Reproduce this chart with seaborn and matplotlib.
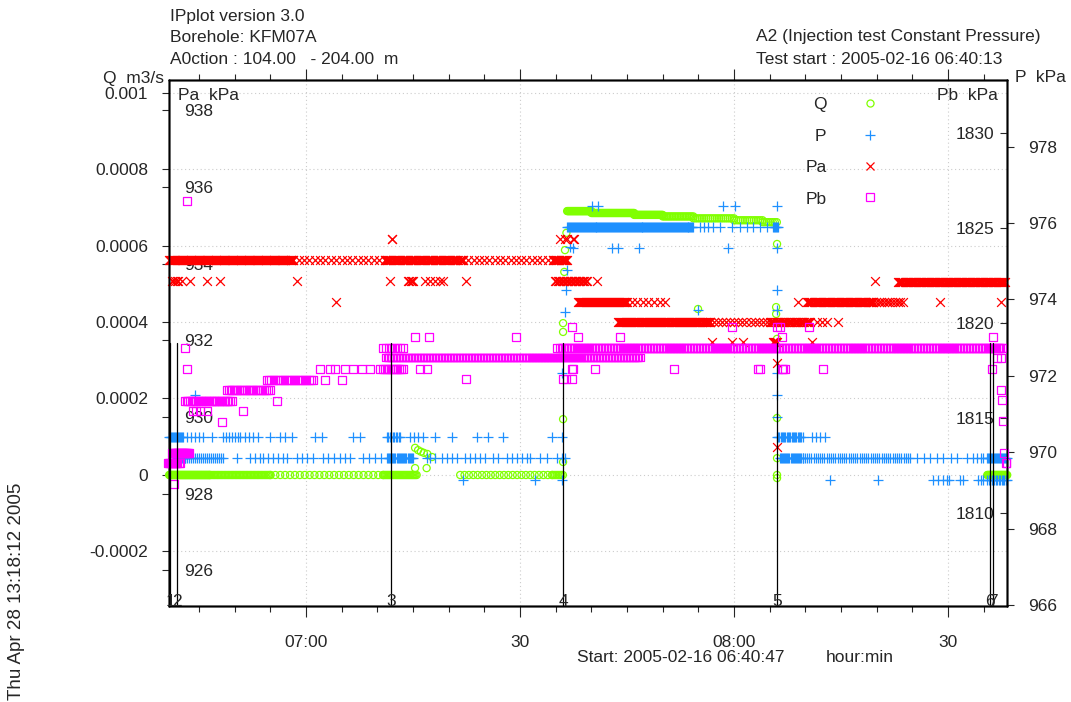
import numpy as np
import pandas as pd
import matplotlib
matplotlib.use("Agg")
import matplotlib.pyplot as plt
import matplotlib.transforms as mtransforms
from matplotlib.lines import Line2D
from matplotlib.ticker import MultipleLocator
import seaborn as sns

# ---------------------------------------------------------------------------
# Time axis: minutes after 06:00 on 2005-02-16
# ---------------------------------------------------------------------------
T_START = 40.78          # 06:40:47
T_END = 158.27
TIME_TICKS = [60, 90, 120, 150]
TIME_TICK_LABELS = ["07:00", "30", "08:00", "30"]

EVENT_TIMES = [40.93, 41.85, 71.95, 96.03, 126.03, 155.89, 156.31]
EVENT_LABELS = ["1", "2", "3", "4", "5", "6", "7"]

# Axis ranges and ticks
Q_LIM = (-0.0003425, 0.0010327)
Q_TICKS = [-0.0002, 0.0, 0.0002, 0.0004, 0.0006, 0.0008, 0.001]
Q_TICK_LABELS = ["-0.0002", "0", "0.0002", "0.0004", "0.0006", "0.0008", "0.001"]
PA_LIM = (925.07, 938.79)
PA_TICKS = [926, 928, 930, 932, 934, 936, 938]
PB_LIM = (1805.11, 1832.79)
PB_TICKS = [1810, 1815, 1820, 1825, 1830]
P_LIM = (965.97, 979.75)
P_TICKS = [966, 968, 970, 972, 974, 976, 978]

# ---------------------------------------------------------------------------
# Logged readings.  Runs: (first minute, last minute, readings, value)
# Single readings: (value, [minutes])
# ---------------------------------------------------------------------------
Q_RUNS = [
    (40.8, 46.5, 70, 0.0),
    (46.5, 55.0, 45, 0.0),
    (55.0, 70.8, 24, 0.0),
    (70.8, 75.5, 30, 0.0),
    (81.6, 94.5, 22, 0.0),
    (94.5, 96.0, 8, 0.0),
    (96.6, 100.0, 35, 0.00069),
    (100.0, 106.0, 45, 0.000685),
    (106.0, 110.0, 30, 0.00068),
    (110.0, 114.3, 20, 0.000676),
    (114.3, 120.0, 20, 0.000671),
    (120.0, 124.0, 14, 0.000666),
    (124.0, 126.0, 8, 0.000661),
    (155.5, 158.3, 30, 0.0),
]
Q_SINGLE = [
    (0.000071, [75.28]), (0.000065, [75.70]), (0.000061, [76.1]),
    (0.000058, [76.5]), (0.000055, [77.0]), (0.000047, [77.66]),
    (0.000018, [75.28, 76.9]),
    (0.000034, [96.03]), (0.000146, [96.03]), (0.000374, [96.03]),
    (0.000397, [96.03]), (0.000531, [96.2]), (0.000588, [96.3]),
    (0.000633, [96.5]), (0.000434, [114.95]),
    (0.000604, [126.03]), (0.000439, [125.9]), (0.000421, [125.9]),
    (0.000356, [126.03]), (0.000149, [126.03]), (0.000044, [126.03]),
    (0.0, [126.03]), (-0.000008, [126.03]),
]

P_RUNS = [
    (40.8, 42.8, 15, 970.40),
    (48.4, 50.8, 7, 970.40),
    (71.3, 73.2, 10, 970.40),
    (41.9, 43.0, 10, 969.85),
    (43.0, 48.4, 20, 969.85),
    (71.3, 75.0, 25, 969.85),
    (96.6, 114.3, 130, 975.90),
    (125.5, 126.1, 6, 975.90),
    (126.0, 129.6, 22, 970.40),
    (126.4, 129.6, 22, 969.85),
    (129.6, 144.7, 50, 969.85),
    (155.5, 158.3, 20, 969.85),
    (155.5, 158.3, 15, 969.27),
]
P_SINGLE = [
    (970.40, [43.32, 43.88, 44.44, 45.0, 45.56, 46.82, 51.45, 52.0, 52.6,
              53.27, 54.95, 56.35, 57.06, 58.04, 61.26, 62.24, 66.59, 67.57,
              74.58, 75.1, 75.7, 76.4, 78.09, 80.47, 83.97, 85.52, 87.62,
              94.49, 95.89, 130.94, 131.5, 132.1, 132.76]),
    (969.85, [50.33, 52.15, 52.85, 53.55, 53.97, 54.6, 55.4, 56.1, 56.7,
              57.34, 58.74, 59.4, 60.1, 60.98, 62.38, 63.1, 63.9, 64.7, 65.4,
              66.17, 67.99, 68.8, 69.6, 70.5, 76.9, 77.4, 78.1, 79.1, 79.8,
              80.5, 81.2, 82.3, 83.0, 83.7, 84.4, 85.1, 86.2, 86.9, 88.2,
              88.9, 89.6, 90.3, 91.0, 91.4, 92.81, 93.79, 95.19, 95.89, 96.31,
              145.66, 146.6, 147.5, 148.4, 149.3, 150.4, 151.2, 152.67,
              153.51, 154.07, 154.6, 154.91]),
    (969.27, [82.01, 92.10, 95.89, 133.46, 140.19, 147.9, 148.6, 149.3,
              149.87, 150.2, 151.69, 152.11, 154.21, 154.6, 154.91]),
    (971.50, [44.44, 126.03]),
    (972.07, [95.89, 126.03]),
    (973.67, [96.31]),
    (974.25, [96.45, 126.03]),
    (974.77, [96.59]),
    (975.37, [97.01]),
    (976.45, [100.10, 100.94, 118.46, 120.14, 126.03]),
    (975.35, [97.43, 102.90, 103.74, 106.69, 119.16, 126.03]),
    (973.72, [114.95, 126.03]),
    (970.92, [126.03]),
    (975.90, [115.24, 115.8, 116.4, 117.0, 118.0, 119.7, 120.8, 121.8,
              122.7, 123.6, 124.6]),
]

PA_RUNS = [
    (40.8, 58.2, 140, 934.10),
    (58.2, 71.0, 18, 934.10),
    (71.0, 82.0, 70, 934.10),
    (82.0, 94.6, 18, 934.10),
    (94.6, 96.6, 14, 934.10),
    (74.3, 75.0, 5, 933.56),
    (94.9, 99.4, 25, 933.56),
    (98.1, 105.0, 50, 933.01),
    (103.7, 116.6, 90, 932.47),
    (116.6, 124.6, 15, 932.47),
    (125.0, 130.7, 35, 932.47),
    (125.5, 126.0, 5, 931.95),
    (130.2, 139.5, 60, 933.01),
    (139.5, 143.7, 12, 933.01),
    (143.0, 158.0, 100, 933.53),
]
PA_SINGLE = [
    (933.56, [41.21, 41.4, 41.6, 41.9, 42.1, 42.62, 43.74, 46.12, 47.94,
              58.74, 71.78, 76.68, 77.4, 78.1, 78.8, 79.21, 82.43, 100.80,
              139.77]),
    (934.65, [72.06, 72.1, 95.61, 96.3, 96.59, 97.43, 97.6]),
    (933.01, [64.21, 105.70, 106.4, 107.2, 108.0, 108.8, 109.6, 110.33,
              128.97, 148.88, 157.43]),
    (931.95, [116.92, 119.72, 121.26, 130.94]),
    (931.40, [126.03]),
    (929.22, [126.03]),
    (932.47, [131.64, 132.3, 133.04, 134.58]),
]

PB_RUNS = [
    (40.6, 42.3, 12, 1812.63),
    (41.2, 43.6, 18, 1813.16),
    (43.0, 49.6, 30, 1815.89),
    (48.9, 54.9, 25, 1816.47),
    (54.5, 61.0, 22, 1817.0),
    (70.8, 73.6, 12, 1817.58),
    (70.8, 73.6, 8, 1818.68),
    (71.2, 106.8, 170, 1818.18),
    (95.6, 157.8, 300, 1818.68),
]
PB_SINGLE = [
    (1811.53, [41.49]),
    (1826.42, [43.32]),
    (1818.68, [43.04, 95.19]),
    (1817.58, [43.3, 61.96, 63.36, 64.07, 65.47, 66.59, 67.85, 68.97, 70.37,
               75.98, 76.96, 97.29, 97.43, 100.52, 111.59, 123.37, 126.73,
               127.15, 132.48, 156.17, 123.65, 126.87]),
    (1815.37, [44.16, 44.6, 45.1, 46.2, 51.17]),
    (1814.79, [48.22]),
    (1815.89, [55.93]),
    (1817.0, [62.66, 65.05]),
    (1819.26, [75.28, 77.24, 89.44, 98.13, 104.02, 126.73, 156.31]),
    (1819.79, [97.29, 119.72, 126.03, 126.45, 130.52]),
    (1817.05, [82.43, 96.03, 96.5, 97.29]),
    (1818.16, [156.87, 157.43]),
    (1816.47, [157.43]),
    (1815.95, [157.57]),
    (1814.84, [157.71]),
    (1813.16, [157.85]),
    (1812.63, [158.1, 158.2]),
]

GREEN = "#80ff00"
BLUE = "#1e90ff"
RED = "#ff0000"
MAGENTA = "#ff00ff"
FS = 12.5


def readings(runs, singles):
    t = [np.linspace(a, b, n) for a, b, n, _ in runs]
    v = [np.full(n, val, dtype=float) for _, _, n, val in runs]
    for val, times in singles:
        t.append(np.asarray(times, dtype=float))
        v.append(np.full(len(times), val, dtype=float))
    return pd.DataFrame({"t": np.concatenate(t), "v": np.concatenate(v)})


q_df = readings(Q_RUNS, Q_SINGLE)
p_df = readings(P_RUNS, P_SINGLE)
pa_df = readings(PA_RUNS, PA_SINGLE)
pb_df = readings(PB_RUNS, PB_SINGLE)

# ---------------------------------------------------------------------------
# Figure
# ---------------------------------------------------------------------------
sns.set_style("white")
plt.rcParams["font.family"] = ["Liberation Sans", "DejaVu Sans"]
plt.rcParams["font.size"] = FS
plt.rcParams["axes.unicode_minus"] = False

W_PX, H_PX = 1071, 702
fig = plt.figure(figsize=(W_PX / 100, H_PX / 100), dpi=100)


def fx(x):
    return x / W_PX


def fy(y):
    return 1 - y / H_PX


ax_q = fig.add_axes([fx(169), fy(606), fx(1007) - fx(169), fy(80) - fy(606)])
ax_p = ax_q.twinx()
ax_pa = ax_q.twinx()
ax_pb = ax_q.twinx()

LW = 0.9
sns.scatterplot(data=q_df, x="t", y="v", ax=ax_q, marker="o", s=26,
                facecolor="none", edgecolor=GREEN, linewidth=LW,
                clip_on=False, zorder=3)
sns.scatterplot(data=p_df, x="t", y="v", ax=ax_p, marker="+", s=46,
                color=BLUE, linewidth=LW, clip_on=False)
sns.scatterplot(data=pa_df, x="t", y="v", ax=ax_pa, marker="x", s=40,
                color=RED, linewidth=LW, clip_on=False)
sns.scatterplot(data=pb_df, x="t", y="v", ax=ax_pb, marker="s", s=30,
                facecolor="none", edgecolor=MAGENTA, linewidth=LW,
                clip_on=False)

for a in (ax_q, ax_p, ax_pa, ax_pb):
    a.set_xlabel("")
    a.set_ylabel("")
    for sp in a.spines.values():
        sp.set_color("black")
        sp.set_linewidth(1.0)

# x axis
ax_q.set_xlim(T_START, T_END)
ax_q.set_xticks(TIME_TICKS)
ax_q.set_xticklabels(TIME_TICK_LABELS)
ax_q.xaxis.set_minor_locator(MultipleLocator(5))
ax_q.tick_params(axis="x", which="major", direction="out", length=8,
                 width=0.8, pad=13, bottom=True, top=True, labeltop=False)
ax_q.tick_params(axis="x", which="minor", direction="out", length=4,
                 width=0.8, bottom=True, top=True)

# Q (left, outside)
ax_q.set_ylim(*Q_LIM)
ax_q.set_yticks(Q_TICKS)
ax_q.set_yticklabels(Q_TICK_LABELS)
ax_q.tick_params(axis="y", direction="out", length=5, width=0.8, pad=10,
                 left=True, right=False)
ax_q.grid(True, which="major", color="#cccccc", linestyle=(0, (1, 2.5)),
          linewidth=0.8)

# Pa (left, labels inside)
ax_pa.set_ylim(*PA_LIM)
ax_pa.set_yticks(PA_TICKS)
ax_pa.yaxis.tick_left()
ax_pa.tick_params(axis="y", direction="out", length=5, width=0.8, pad=-16,
                  left=True, right=False, labelleft=True, labelright=False)

# Pb (right, ticks and labels inside)
ax_pb.set_ylim(*PB_LIM)
ax_pb.set_yticks(PB_TICKS)
ax_pb.tick_params(axis="y", direction="in", length=5, width=0.8, pad=-9,
                  left=False, right=True)

# P (right, outside)
ax_p.set_ylim(*P_LIM)
ax_p.set_yticks(P_TICKS)
ax_p.tick_params(axis="y", direction="out", length=5, width=0.8, pad=10,
                 left=False, right=True)

# event markers
ev_tr = mtransforms.blended_transform_factory(ax_pb.transData, ax_pb.transAxes)
for t, lab in zip(EVENT_TIMES, EVENT_LABELS):
    ax_pb.axvline(t, ymin=0.0, ymax=0.5, color="black", linewidth=0.9)
    ax_pb.text(t, 0.008, lab, transform=ev_tr, ha="center", va="center",
               fontsize=FS)

# legend
handles = [
    Line2D([], [], linestyle="none", marker="o", markersize=5.1,
           markerfacecolor="none", markeredgecolor=GREEN, markeredgewidth=LW),
    Line2D([], [], linestyle="none", marker="+", markersize=6.8,
           color=BLUE, markeredgewidth=LW),
    Line2D([], [], linestyle="none", marker="x", markersize=6.3,
           color=RED, markeredgewidth=LW),
    Line2D([], [], linestyle="none", marker="s", markersize=5.5,
           markerfacecolor="none", markeredgecolor=MAGENTA,
           markeredgewidth=LW),
]
ax_pb.legend(handles, ["Q", "P", "Pa", "Pb"], markerfirst=False,
             frameon=False, loc="upper right",
             bbox_to_anchor=(fx(882), fy(97)), bbox_transform=fig.transFigure,
             borderpad=0, borderaxespad=0, handletextpad=1.8,
             handlelength=1.4, labelspacing=0.94, fontsize=FS)

# header and axis captions
fig.text(fx(170), fy(17), "IPplot version 3.0", ha="left", va="center")
fig.text(fx(170), fy(38), "Borehole: KFM07A", ha="left", va="center")
fig.text(fx(170), fy(59), "A0ction : 104.00   - 204.00  m", ha="left",
         va="center")
fig.text(fx(756), fy(37), "A2 (Injection test Constant Pressure)", ha="left",
         va="center")
fig.text(fx(756), fy(59), "Test start : 2005-02-16 06:40:13", ha="left",
         va="center")
fig.text(fx(103), fy(78), "Q  m3/s", ha="left", va="center")
fig.text(fx(1015), fy(78), "P  kPa", ha="left", va="center")
fig.text(fx(178), fy(96), "Pa  kPa", ha="left", va="center")
fig.text(fx(998), fy(96), "Pb  kPa", ha="right", va="center")
fig.text(fx(577), fy(658), "Start: 2005-02-16 06:40:47", ha="left",
         va="center")
fig.text(fx(826), fy(658), "hour:min", ha="left", va="center")
fig.text(fx(17), fy(591), "Thu Apr 28 13:18:12 2005", ha="center",
         va="center", rotation=90, fontsize=13.5)

plt.setp(ax_pa.get_yticklabels(), ha="left")
plt.setp(ax_pb.get_yticklabels(), ha="right")

fig.savefig("out.png", dpi=100)
